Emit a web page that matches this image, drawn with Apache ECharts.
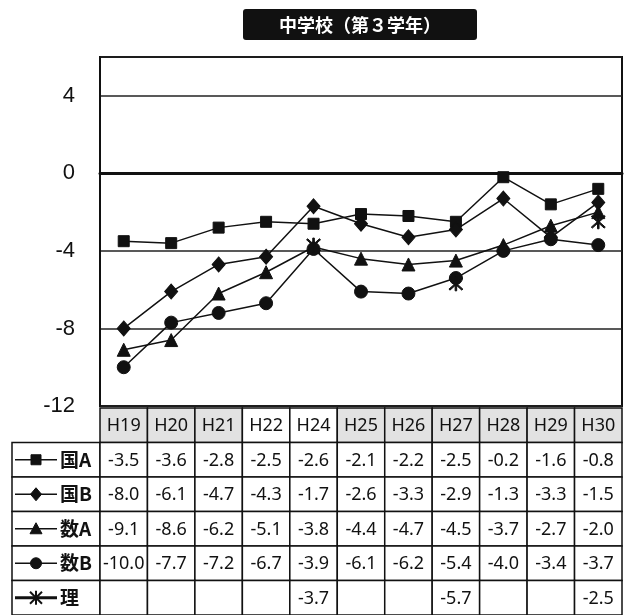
<!DOCTYPE html>
<html>
<head>
<meta charset="utf-8">
<script src="https://cdn.jsdelivr.net/npm/echarts@6/dist/echarts.min.js"></script>
<style>
html,body{margin:0;padding:0;background:#fff;}
#main{width:627px;height:615px;}
</style>
</head>
<body>
<div id="main"></div>
<script>
const categories = ['H19','H20','H21','H22','H24','H25','H26','H27','H28','H29','H30'];
const kokugoA = [-3.5,-3.6,-2.8,-2.5,-2.6,-2.1,-2.2,-2.5,-0.2,-1.6,-0.8];
const kokugoB = [-8.0,-6.1,-4.7,-4.3,-1.7,-2.6,-3.3,-2.9,-1.3,-3.3,-1.5];
const sugakuA = [-9.1,-8.6,-6.2,-5.1,-3.8,-4.4,-4.7,-4.5,-3.7,-2.7,-2.0];
const sugakuB = [-10.0,-7.7,-7.2,-6.7,-3.9,-6.1,-6.2,-5.4,-4.0,-3.4,-3.7];
const rika = [null,null,null,null,-3.7,null,null,-5.7,null,null,-2.5];
const seriesNames = ['国A','国B','数A','数B','理'];
const yTicks = [-12,-8,-4,0,4];
const headerShaded = [true,true,true,false,false,true,true,true,true,true,true];
const titleText = '中学校（第３学年）';

const seriesValues = [kokugoA, kokugoB, sugakuA, sugakuB, rika];
const symbolKinds = ['square','diamond','triangle','circle','asterisk'];
const asteriskPath = 'path://M9,0L11,0L11,20L9,20Z M1,2.4L2.4,1L19,17.6L17.6,19Z M17.6,1L19,2.4L2.4,19L1,17.6Z';
const chartSymbols = {
  square: {symbol:'rect', size:11},
  diamond: {symbol:'path://M0,-7L6,0L0,7L-6,0Z', size:[13,15]},
  triangle: {symbol:'triangle', size:13},
  circle: {symbol:'circle', size:13},
  asterisk: {symbol:asteriskPath, size:14}
};

// table cells
const rowKeys = ['header'].concat(seriesNames);
const cells = [];
categories.forEach((c, i) => cells.push({col:i, row:0, kind:'header', text:c, shaded:headerShaded[i]}));
seriesValues.forEach((vals, s) => {
  cells.push({col:0, row:s+1, kind:'label', text:seriesNames[s], sym:symbolKinds[s]});
  vals.forEach((v, i) => cells.push({col:i, row:s+1, kind:'value', text: v == null ? '' : v.toFixed(1)}));
});

const FONT = "'Noto Sans', 'Noto Sans CJK JP', sans-serif";
const LABEL_W = 88;

function symbolShape(kind, cx, cy) {
  const st = {fill:'#111', stroke:'#111', lineWidth:1};
  switch (kind) {
    case 'square': return {type:'rect', shape:{x:cx-5, y:cy-5, width:10, height:10}, style:st};
    case 'diamond': return {type:'polygon', shape:{points:[[cx,cy-6.5],[cx+5.5,cy],[cx,cy+6.5],[cx-5.5,cy]]}, style:st};
    case 'triangle': return {type:'polygon', shape:{points:[[cx,cy-6],[cx+6,cy+5],[cx-6,cy+5]]}, style:st};
    case 'circle': return {type:'circle', shape:{cx:cx, cy:cy, r:5.5}, style:st};
    default: return {type:'group', children:[
      {type:'line', shape:{x1:cx, y1:cy-7, x2:cx, y2:cy+7}, style:{stroke:'#111', lineWidth:2}},
      {type:'line', shape:{x1:cx-6, y1:cy-6, x2:cx+6, y2:cy+6}, style:{stroke:'#111', lineWidth:2}},
      {type:'line', shape:{x1:cx+6, y1:cy-6, x2:cx-6, y2:cy+6}, style:{stroke:'#111', lineWidth:2}}
    ]};
  }
}

function renderCell(params, api) {
  const cell = cells[params.dataIndex];
  const c = api.coord([cell.col, cell.row]);
  const sz = api.size([1, 1]);
  const w = sz[0], h = sz[1];
  const border = {stroke:'#111', lineWidth:1.5};
  if (cell.kind === 'label') {
    const x0 = c[0] - w / 2 - LABEL_W;
    const y0 = c[1] - h / 2;
    const cy = c[1];
    return {type:'group', children:[
      {type:'rect', shape:{x:x0, y:y0, width:LABEL_W, height:h}, style:Object.assign({fill:'#fff'}, border)},
      {type:'line', shape:{x1:x0+3, y1:cy, x2:x0+45, y2:cy}, style:{stroke:'#111', lineWidth: cell.sym === 'asterisk' ? 3 : 1.5}},
      symbolShape(cell.sym, x0+24, cy),
      {type:'text', style:{x:x0+48, y:cy, text:cell.text, fill:'#111', font:"bold 19px 'Noto Sans CJK JP', sans-serif", textAlign:'left', textVerticalAlign:'middle'}}
    ]};
  }
  const fill = cell.kind === 'header' && cell.shaded ? '#e2e2e2' : '#fff';
  return {type:'group', children:[
    {type:'rect', shape:{x:c[0]-w/2, y:c[1]-h/2, width:w, height:h}, style:Object.assign({fill:fill}, border)},
    {type:'text', style:{x:c[0], y:c[1]+1, text:cell.text, fill:'#111', font:"18px " + FONT, textAlign:'center', textVerticalAlign:'middle'}}
  ]};
}

const chart = echarts.init(document.getElementById('main'));
const lineSeries = seriesValues.map((vals, s) => {
  const sym = chartSymbols[symbolKinds[s]];
  return {
    name: seriesNames[s], type:'line', xAxisIndex:0, yAxisIndex:0,
    data: vals, connectNulls:false, symbol: sym.symbol, symbolSize: sym.size,
    showAllSymbol:true, animation:false,
    lineStyle:{color:'#111', width:1.5}, itemStyle:{color:'#111', borderColor:'#111'},
    z: 3
  };
});

chart.setOption({
  animation:false,
  graphic:[{
    type:'group', left:243, top:9, children:[
      {type:'rect', shape:{x:0, y:0, width:234, height:31, r:3}, style:{fill:'#111'}},
      {type:'text', style:{x:117, y:16, text:titleText, fill:'#fff', font:"bold 18px 'Noto Sans CJK JP', sans-serif", textAlign:'center', textVerticalAlign:'middle'}}
    ]
  }],
  grid:[
    {left:100, right:5, top:57, height:349, show:true, borderColor:'#111', borderWidth:2, backgroundColor:'transparent'},
    {left:100, right:5, top:408, height:210}
  ],
  xAxis:[
    {type:'category', gridIndex:0, data:categories, boundaryGap:true,
     axisLine:{show:true, onZero:true, lineStyle:{color:'#111', width:3}},
     axisTick:{show:false}, axisLabel:{show:false}, splitLine:{show:false}},
    {type:'category', gridIndex:1, data:categories, show:false}
  ],
  yAxis:[
    {type:'value', gridIndex:0, min:-12, max:6, interval:4,
     axisLine:{show:true, lineStyle:{color:'#111', width:2}}, axisTick:{show:false},
     axisLabel:{margin:25, fontSize:22, color:'#111', fontFamily:"'Liberation Sans', Arial, sans-serif",
       formatter: v => yTicks.indexOf(v) >= 0 ? String(v) : ''},
     splitLine:{show:true, lineStyle:{color:'#222', width:1.5}}},
    {type:'category', gridIndex:1, data:rowKeys, inverse:true, show:false}
  ],
  series: lineSeries.concat([{
    type:'custom', xAxisIndex:1, yAxisIndex:1, renderItem:renderCell,
    data: cells.map(c => [c.col, c.row]), clip:false, animation:false, silent:true
  }])
});
</script>
</body>
</html>
